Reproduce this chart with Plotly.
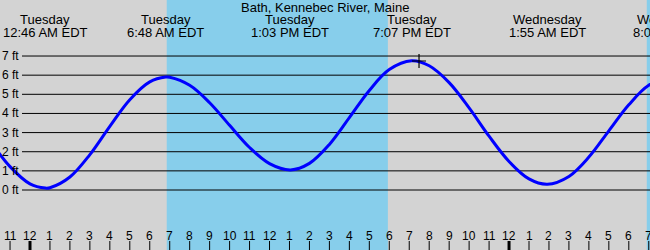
import plotly.graph_objects as go

# ---- data ----
title = "Bath, Kennebec River, Maine"
# tide curve samples (hours since Tuesday 00:00 EDT, feet)
curve_hours = [-2, -1, 0, 0.767, 1, 2, 3, 4, 5, 6, 6.8, 7, 8, 9, 10, 11, 12, 13.05,
               14, 15, 16, 17, 18, 19.117, 20, 21, 22, 23, 24, 25, 25.917, 27, 28,
               29, 30, 31, 32.117]
curve_feet = [2.57, 1.22, 0.32, 0.10, 0.12, 0.68, 1.85, 3.33, 4.72, 5.65, 5.90, 5.89,
              5.47, 4.56, 3.38, 2.22, 1.38, 1.05, 1.39, 2.38, 3.78, 5.20, 6.29, 6.75,
              6.49, 5.61, 4.29, 2.81, 1.49, 0.58, 0.30, 0.71, 1.72, 3.09, 4.45, 5.47,
              5.90]
# high / low events
event_hours = [0.767, 6.8, 13.05, 19.117, 25.917, 32.117]
event_days = ["Tuesday", "Tuesday", "Tuesday", "Tuesday", "Wednesday", "Wednesday"]
event_times = ["12:46 AM EDT", "6:48 AM EDT", "1:03 PM EDT", "7:07 PM EDT",
               "1:55 AM EDT", "8:07 AM EDT"]
# daylight intervals (hours)
day_start = [6.85, 30.9]
day_end = [17.93, 40.0]
# current-time marker
now_hours = [19.49]
now_feet = [6.74]
# axis labels
ft_levels = [0, 1, 2, 3, 4, 5, 6, 7]
ft_labels = ["0 ft", "1 ft", "2 ft", "3 ft", "4 ft", "5 ft", "6 ft", "7 ft"]
tick_hours = list(range(-1, 32))
tick_labels = [str((h % 12) or 12) for h in tick_hours]

X_RANGE = [-1.503, 31.062]
Y_RANGE = [-3.135, 9.927]
GRAY = "#D3D3D3"
SKY = "#87CEEB"
FONT = "Liberation Sans"

fig = go.Figure()
fig.add_trace(go.Scatter(x=curve_hours, y=curve_feet, mode="lines",
                         line=dict(color="#0000FF", width=3, shape="spline"),
                         hoverinfo="skip", showlegend=False))
fig.add_trace(go.Scatter(x=now_hours, y=now_feet, mode="markers",
                         marker=dict(symbol="cross-thin", size=10,
                                     line=dict(color="black", width=1.2)),
                         hoverinfo="skip", showlegend=False))

shapes = []
for s, e in zip(day_start, day_end):
    shapes.append(dict(type="rect", xref="x", yref="paper", x0=s, x1=e, y0=0, y1=1,
                       fillcolor=SKY, line=dict(width=0), layer="below"))
for lv in ft_levels:
    shapes.append(dict(type="line", xref="paper", yref="y", x0=22 / 650, x1=1,
                       y0=lv, y1=lv, line=dict(color="black", width=1), layer="below"))
for h in tick_hours:
    shapes.append(dict(type="line", xref="x", yref="paper", x0=h, x1=h, y0=0,
                       y1=9 / 250, line=dict(color="black", width=3 if h % 24 == 0 else 1)))

ann = []
ann.append(dict(text=title, xref="paper", yref="paper", x=0.5, y=1 - 7.5 / 250,
                showarrow=False, font=dict(family=FONT, size=13, color="black"),
                xanchor="center", yanchor="middle"))
span = X_RANGE[1] - X_RANGE[0]
for h, d, t in zip(event_hours, event_days, event_times):
    if X_RANGE[0] <= h <= X_RANGE[1]:
        xr, xv = "x", h
    else:
        xr, xv = "paper", (h - X_RANGE[0]) / span
    ann.append(dict(text=d, xref=xr, yref="paper", x=xv, y=1 - 19.5 / 250,
                    showarrow=False, font=dict(family=FONT, size=13, color="black"),
                    xanchor="center", yanchor="middle"))
    ann.append(dict(text=t, xref=xr, yref="paper", x=xv, y=1 - 32 / 250,
                    showarrow=False, font=dict(family=FONT, size=13, color="black"),
                    xanchor="center", yanchor="middle"))
for lv, lb in zip(ft_levels, ft_labels):
    ann.append(dict(text=lb, xref="paper", yref="y", x=21 / 650, y=lv,
                    showarrow=False, font=dict(family=FONT, size=12, color="black"),
                    xanchor="right", yanchor="middle"))
for h, lb in zip(tick_hours, tick_labels):
    ann.append(dict(text=lb, xref="x", yref="paper", x=h, y=1 - 235.5 / 250,
                    showarrow=False, font=dict(family=FONT, size=12, color="black"),
                    xanchor="center", yanchor="middle"))

fig.update_layout(width=650, height=250, margin=dict(l=0, r=0, t=0, b=0),
                  paper_bgcolor=GRAY, plot_bgcolor=GRAY,
                  xaxis=dict(range=X_RANGE, visible=False, fixedrange=True),
                  yaxis=dict(range=Y_RANGE, visible=False, fixedrange=True),
                  shapes=shapes, annotations=ann, showlegend=False)
fig.write_html("out.html", config={"displayModeBar": False})
